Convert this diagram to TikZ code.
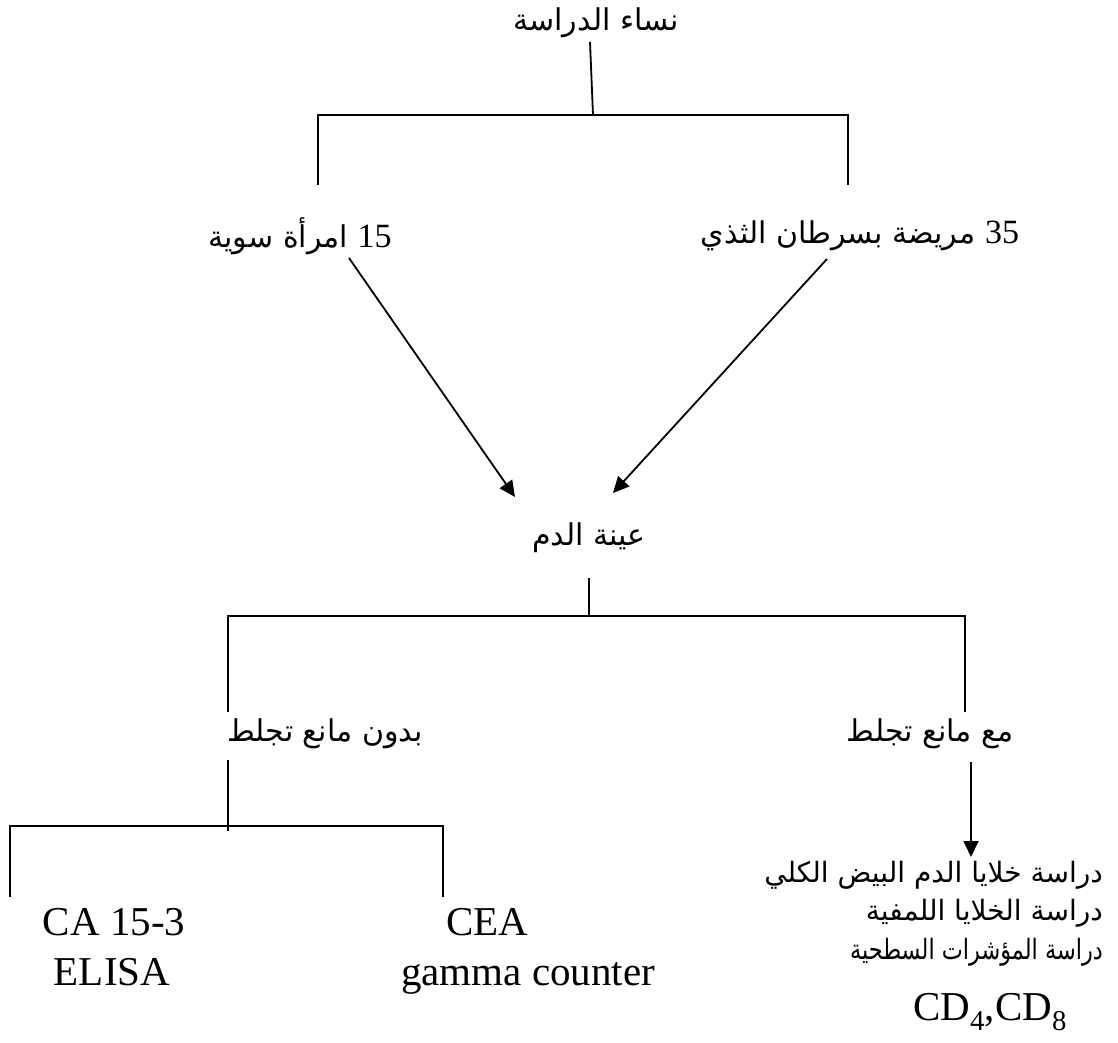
\documentclass[tikz,border=0pt]{standalone}
\usepackage{fontspec}
\setmainfont{Liberation Serif}
\newfontfamily\arabicfont[Script=Arabic]{DejaVu Sans}
\TeXXeTstate=1
\usetikzlibrary{arrows.meta}
\usetikzlibrary{positioning}

\newcommand{\numtxt}[1]{\beginL{\rmfamily\fontsize{34}{40}\selectfont #1}\endL{}}

\tikzset{
  artext/.style={inner sep=0pt, font=\arabicfont\fontsize{30}{36}\selectfont},
  arsmall/.style={inner sep=0pt, anchor=east, font=\arabicfont\fontsize{28}{34}\selectfont},
  latext/.style={inner sep=0pt, font=\fontsize{41}{48}\selectfont},
  branch/.style={line width=1.8pt},
  arw/.style={line width=1.8pt, -{Triangle[length=16pt,width=15pt]}}
}

\begin{document}
\begin{tikzpicture}[x=1pt,y=-1pt]
\useasboundingbox (0,0) rectangle (1118,1043);

% top level
\node[artext] (study) at (596,23) {\beginR نساء الدراسة\endR};
\node[artext] (healthy) at (300,236) {\beginR\numtxt{15} امرأة سوية\endR};
\node[artext] (patients) at (860,236) {\beginR\numtxt{35} مريضة بسرطان الثذي\endR};
\node[artext] (blood) at (589,538) {\beginR عينة الدم\endR};

% blood sample branches
\node[artext] (noanti) at (325,734) {\beginR بدون مانع تجلط\endR};
\node[artext] (anti) at (930,734) {\beginR مع مانع تجلط\endR};

% tests
\node[latext, anchor=base] (ca) at (114,935) {CA 15-3};
\node[latext, anchor=base] (elisa) at (112,985) {ELISA};
\node[latext, anchor=base] (cea) at (487,935) {CEA};
\node[latext, anchor=base] (gamma) at (528,985) {gamma counter};
\node[arsmall] (wbc) at (1103,875) {\beginR دراسة خلايا الدم البيض الكلي\endR};
\node[arsmall] (lymph) at (1103,913) {\beginR دراسة الخلايا اللمفية\endR};
\node[arsmall] (markers) at (1103,952) {\scalebox{0.8}[1]{\beginR دراسة المؤشرات السطحية\endR}};
\node[latext, anchor=base] (cd) at (990,1020) {CD\textsubscript{4},CD\textsubscript{8}};

% junction points
\coordinate (s1) at (590,42);
\coordinate (s2) at (593,115);
\coordinate (sl) at (318,115);
\coordinate (sr) at (848,115);
\coordinate (h1) at (349,258);
\coordinate (p1) at (827,259);
\coordinate (b1) at (515,497);
\coordinate (b2) at (613,493);
\coordinate (b3) at (589,578);
\coordinate (b4) at (589,616);
\coordinate (bl) at (228,616);
\coordinate (br) at (965,616);
\coordinate (n1) at (228,760);
\coordinate (n2) at (228,831);
\coordinate (nl) at (10,826);
\coordinate (nr) at (443,826);
\coordinate (a1) at (971,762);
\coordinate (a2) at (971,857);

\draw[branch] (s1) -- (s2);
\draw[branch] (sl |- 0,185) -- (sl) -- (sr) -- (sr |- 0,185);
\draw[arw] (h1) -- (b1);
\draw[arw] (p1) -- (b2);
\draw[branch] (b3) -- (b4);
\draw[branch] (bl |- 0,712) -- (bl) -- (br) -- (br |- 0,712);
\draw[branch] (n1) -- (n2);
\draw[branch] (nl |- 0,897) -- (nl) -- (nr) -- (nr |- 0,897);
\draw[arw] (a1) -- (a2);
\end{tikzpicture}
\end{document}
